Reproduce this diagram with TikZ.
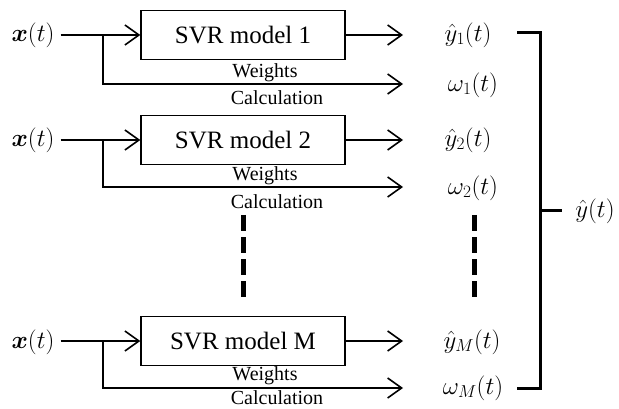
\documentclass[tikz,border=0pt]{standalone}
\usepackage{fontspec}
\usepackage{bm}
\setmainfont{Liberation Serif}
\usetikzlibrary{arrows.meta}
\begin{document}
\begin{tikzpicture}[x=1pt,y=-1pt,
  model/.style={draw,line width=1.4pt,minimum width=204pt,minimum height=49pt,inner sep=0pt,
    font=\fontsize{25}{25}\selectfont},
  mlabel/.style={inner sep=0pt,font=\fontsize{23}{23}\selectfont},
  wlabel/.style={inner sep=0pt,font=\fontsize{20}{20}\selectfont},
  conn/.style={line width=1.4pt},
  arr/.style={conn,-{Straight Barb[length=14pt,width=20pt,line width=1.6pt]}},
  brace/.style={line width=3pt},
  dots/.style={line width=5pt,dash pattern=on 16pt off 6pt}
]
\useasboundingbox (0,0) rectangle (619,409);

% row 1
\node[mlabel] (x1) at (33,35) {$\bm{x}(t)$};
\node[model] (m1) at (243,35) {SVR model 1};
\coordinate (s1) at (103,35);
\coordinate (o1) at (403,35);
\coordinate (w1) at (403,84);
\node[mlabel] (y1) at (468,35) {$\hat{y}_1(t)$};
\node[mlabel] (om1) at (473,85) {$\omega_1(t)$};
\draw[conn] ([xshift=6pt]x1.east |- s1) -- (s1);
\draw[arr] (s1) -- (m1.west);
\draw[arr] (m1.east) -- (o1);
\draw[arr] (s1) |- (w1);
\node[wlabel] (wt1) at (265,73) {Weights};
\node[wlabel] (ca1) at (277,98) {Calculation};

% row 2
\node[mlabel] (x2) at (33,140) {$\bm{x}(t)$};
\node[model] (m2) at (243,140) {SVR model 2};
\coordinate (s2) at (103,140);
\coordinate (o2) at (403,140);
\coordinate (w2) at (403,187);
\node[mlabel] (y2) at (468,140) {$\hat{y}_2(t)$};
\node[mlabel] (om2) at (473,188) {$\omega_2(t)$};
\draw[conn] ([xshift=6pt]x2.east |- s2) -- (s2);
\draw[arr] (s2) -- (m2.west);
\draw[arr] (m2.east) -- (o2);
\draw[arr] (s2) |- (w2);
\node[wlabel] (wt2) at (265,176) {Weights};
\node[wlabel] (ca2) at (277,202) {Calculation};

% dots
\coordinate (d1a) at (243,215);
\coordinate (d1b) at (243,300);
\coordinate (d2a) at (474,215);
\coordinate (d2b) at (474,300);
\draw[dots] (d1a) -- (d1b);
\draw[dots] (d2a) -- (d2b);

% row M
\node[mlabel] (xM) at (33,342) {$\bm{x}(t)$};
\node[model] (mM) at (243,341) {SVR model M};
\coordinate (sM) at (103,341);
\coordinate (oM) at (403,341);
\coordinate (wM) at (403,388);
\node[mlabel] (yM) at (472,342) {$\hat{y}_M(t)$};
\node[mlabel] (omM) at (473,388) {$\omega_M(t)$};
\draw[conn] ([xshift=6pt]xM.east |- sM) -- (sM);
\draw[arr] (sM) -- (mM.west);
\draw[arr] (mM.east) -- (oM);
\draw[arr] (sM) |- (wM);
\node[wlabel] (wtM) at (265,376) {Weights};
\node[wlabel] (caM) at (277,398) {Calculation};

% brace
\coordinate (bt) at (540,33);
\coordinate (bb) at (540,388);
\coordinate (bm) at (540,211);
\coordinate (bt0) at (517,33);
\coordinate (bb0) at (517,388);
\coordinate (bm1) at (562,211);
\node[mlabel] (yy) at (595,211) {$\hat{y}(t)$};
\draw[brace] (bt0) -- (bt) -- (bb) -- (bb0);
\draw[brace] (bm) -- (bm1);
\end{tikzpicture}
\end{document}
